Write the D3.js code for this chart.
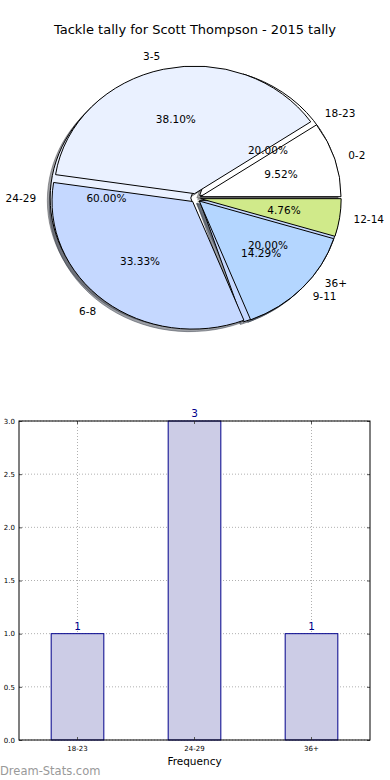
<!DOCTYPE html>
<html>
<head>
<meta charset="utf-8">
<script src="https://cdn.jsdelivr.net/npm/d3@7/dist/d3.min.js"></script>
<style>
    body { margin: 0; background: #fff; }
    svg { display: block; font-family: "DejaVu Sans", sans-serif; }
</style>
</head>
<body>
<div id="chart"></div>
<script>
// pie 1 (drawn on top): tackles per game buckets
var topLabels = ["0-2", "3-5", "6-8", "9-11", "12-14"];
var topValues = [2, 8, 7, 3, 1];
// pie 2 (drawn underneath) and bar chart
var underLabels = ["18-23", "24-29", "36+"];
var underValues = [1, 3, 1];
var sliceColors = ["#ffffff", "#eaf1ff", "#c5d8ff", "#b4d6ff", "#d0ea8a"];
var yTicks = [0, 0.5, 1, 1.5, 2, 2.5, 3];

var width = 390, height = 780;
var svg = d3.select("#chart").append("svg")
    .attr("width", width)
    .attr("height", height);

svg.append("text")
    .attr("x", 195).attr("y", 34)
    .attr("text-anchor", "middle")
    .style("font-size", "13px")
    .text("Tackle tally for Scott Thompson - 2015 tally");

// ---- pie (elliptical, like a non-equal matplotlib axes) ----
var pieBox = { cx: 195.7, cy: 198, rx: 140.6, ry: 127.6 };
var px = d3.scaleLinear().domain([-1, 1]).range([pieBox.cx - pieBox.rx, pieBox.cx + pieBox.rx]);
var py = d3.scaleLinear().domain([-1, 1]).range([pieBox.cy + pieBox.ry, pieBox.cy - pieBox.ry]);
var explode = 0.035;
var unitArc = d3.arc().innerRadius(0).outerRadius(1);

function wedges(values, labels) {
    var total = d3.sum(values);
    return d3.pie().sort(null)(values).map(function (a, i) {
        var mid = (a.startAngle + a.endAngle) / 2;
        return {
            label: labels[i],
            pct: (100 * values[i] / total).toFixed(2) + "%",
            color: sliceColors[i % sliceColors.length],
            // d3 angles run clockwise from 12 o'clock, matplotlib counter-clockwise from 3 o'clock
            path: unitArc({ startAngle: Math.PI / 2 - a.endAngle, endAngle: Math.PI / 2 - a.startAngle }),
            mid: mid,
            x: explode * Math.cos(mid),
            y: explode * Math.sin(mid)
        };
    });
}

var underPie = wedges(underValues, underLabels);
var topPie = wedges(topValues, topLabels);
var rx = pieBox.rx, ry = pieBox.ry;

function shadowColor(c) {
    var rgb = d3.rgb(c);
    return "rgba(" + Math.round(rgb.r * 0.3) + "," + Math.round(rgb.g * 0.3) + "," + Math.round(rgb.b * 0.3) + ",0.5)";
}

var pieG = svg.append("g");
// shadows sit below every wedge
pieG.selectAll("path.shadow")
    .data(underPie.concat(topPie))
    .enter().append("path")
    .attr("class", "shadow")
    .attr("d", d => d.path)
    .attr("transform", d => "translate(" + px(d.x - 0.02) + "," + py(d.y - 0.02) + ") scale(" + rx + "," + ry + ")")
    .attr("fill", d => shadowColor(d.color))
    .attr("stroke", d => shadowColor(d.color))
    .attr("vector-effect", "non-scaling-stroke");

[underPie, topPie].forEach(function (pie, k) {
    pieG.selectAll("path.w" + k)
        .data(pie)
        .enter().append("path")
        .attr("class", "w" + k)
        .attr("d", d => d.path)
        .attr("transform", d => "translate(" + px(d.x) + "," + py(d.y) + ") scale(" + rx + "," + ry + ")")
        .attr("fill", d => d.color)
        .attr("stroke", "#000")
        .attr("stroke-width", 1)
        .attr("vector-effect", "non-scaling-stroke");
});

[underPie, topPie].forEach(function (pie) {
    pie.forEach(function (d) {
        var lx = d.x + 1.1 * Math.cos(d.mid), ly = d.y + 1.1 * Math.sin(d.mid);
        pieG.append("text")
            .attr("x", px(lx)).attr("y", py(ly))
            .attr("dy", "0.35em")
            .attr("text-anchor", lx > 0 ? "start" : "end")
            .style("font-size", "10.5px")
            .text(d.label);
        pieG.append("text")
            .attr("x", px(d.x + 0.6 * Math.cos(d.mid))).attr("y", py(d.y + 0.6 * Math.sin(d.mid)))
            .attr("dy", "0.35em")
            .attr("text-anchor", "middle")
            .style("font-size", "10.5px")
            .text(d.pct);
    });
});

// ---- bar chart ----
var plot = { left: 19, right: 370, top: 421, bottom: 740 };
var x = d3.scaleBand().domain(underLabels).range([plot.left, plot.right]).padding(0);
var y = d3.scaleLinear().domain([0, 3]).range([plot.bottom, plot.top]);
var barWidth = x.bandwidth() * 0.45;

var grid = svg.append("g")
    .attr("stroke", "#b0b0b0")
    .attr("stroke-dasharray", "1,2");
grid.selectAll("line.h").data(yTicks).enter().append("line")
    .attr("x1", plot.left).attr("x2", plot.right)
    .attr("y1", d => y(d)).attr("y2", d => y(d));
grid.selectAll("line.v").data(underLabels).enter().append("line")
    .attr("x1", d => x(d) + x.bandwidth() / 2).attr("x2", d => x(d) + x.bandwidth() / 2)
    .attr("y1", plot.top).attr("y2", plot.bottom);

svg.selectAll("rect.bar")
    .data(underValues)
    .enter().append("rect")
    .attr("class", "bar")
    .attr("x", (d, i) => x(underLabels[i]) + (x.bandwidth() - barWidth) / 2)
    .attr("y", d => y(d))
    .attr("width", barWidth)
    .attr("height", d => plot.bottom - y(d))
    .attr("fill", "#ccccE6")
    .attr("stroke", "#00008b")
    .attr("stroke-width", 1);

svg.selectAll("text.val")
    .data(underValues)
    .enter().append("text")
    .attr("class", "val")
    .attr("x", (d, i) => x(underLabels[i]) + x.bandwidth() / 2)
    .attr("y", d => y(d) - 4)
    .attr("text-anchor", "middle")
    .attr("fill", "#00008b")
    .style("font-size", "10.5px")
    .text(d => d);

var xAxis = svg.append("g")
    .attr("transform", "translate(0," + plot.bottom + ")")
    .call(d3.axisBottom(x).tickSize(-3).tickPadding(6));
var yAxis = svg.append("g")
    .attr("transform", "translate(" + plot.left + ",0)")
    .call(d3.axisLeft(y).tickValues(yTicks).tickFormat(d3.format(".1f")).tickSize(-3).tickPadding(4));
svg.append("g")
    .attr("transform", "translate(" + plot.right + ",0)")
    .call(d3.axisRight(y).tickValues(yTicks).tickFormat("").tickSize(-3));
svg.append("g")
    .attr("transform", "translate(0," + plot.top + ")")
    .call(d3.axisTop(x).tickFormat("").tickSize(-3));
svg.selectAll(".domain").remove();
svg.selectAll(".tick line").attr("stroke", "#555");
[xAxis, yAxis].forEach(a => a.selectAll("text")
    .style("font-family", "'DejaVu Sans'")
    .style("font-size", "7px")
    .attr("fill", "#000"));

svg.append("rect")
    .attr("x", plot.left).attr("y", plot.top)
    .attr("width", plot.right - plot.left).attr("height", plot.bottom - plot.top)
    .attr("fill", "none").attr("stroke", "#000");

svg.append("text")
    .attr("x", (plot.left + plot.right) / 2).attr("y", 765)
    .attr("text-anchor", "middle")
    .style("font-size", "10.5px")
    .text("Frequency");

svg.append("text")
    .attr("x", 0).attr("y", 775)
    .attr("fill", "#999")
    .style("font-size", "11.5px")
    .text("Dream-Stats.com");
</script>
</body>
</html>
